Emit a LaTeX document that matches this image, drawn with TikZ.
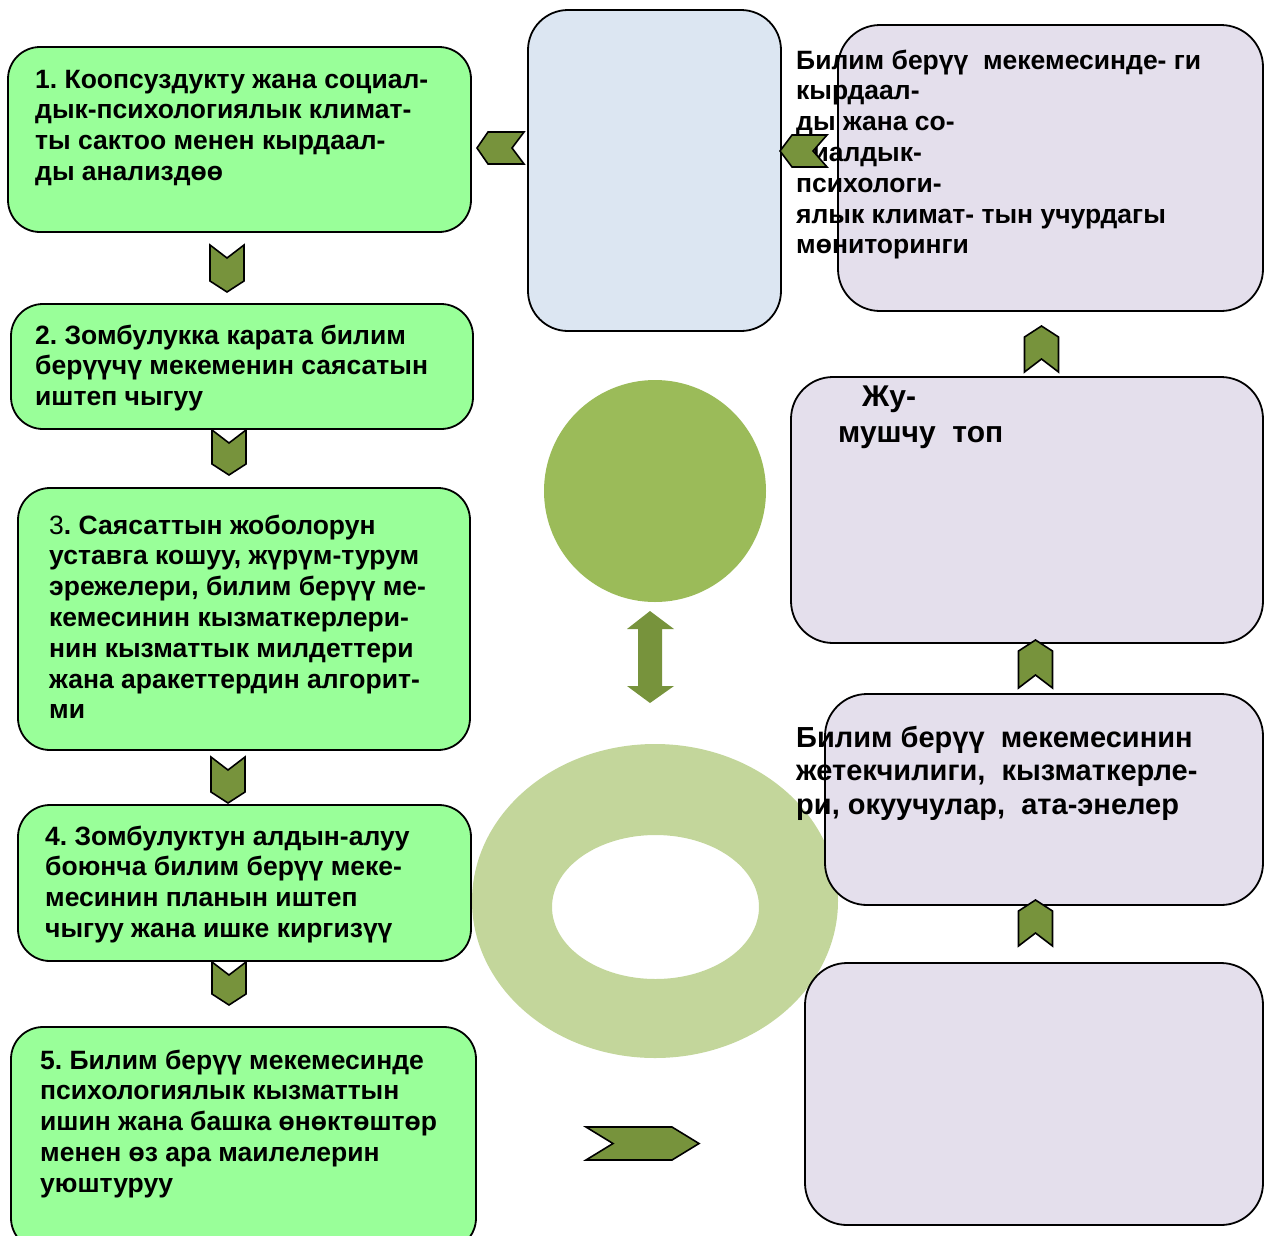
\documentclass[tikz,border=0pt]{standalone}
\usepackage{fontspec}
\setmainfont{Liberation Sans}
\frenchspacing
\definecolor{gbox}{HTML}{99FF99}
\definecolor{chev}{HTML}{77933C}
\definecolor{bluebox}{HTML}{DCE6F2}
\definecolor{lav}{HTML}{E4DFEC}
\definecolor{circc}{HTML}{9BBB59}
\definecolor{ringc}{HTML}{C3D69B}
\tikzset{
  gstep/.style={draw=black, line width=1.8pt, fill=gbox, rounded corners=32pt},
  rbox/.style={draw=black, line width=1.8pt, fill=lav, rounded corners=42pt},
  bbox/.style={draw=black, line width=1.8pt, fill=bluebox, rounded corners=40pt},
  chv/.style={draw=black, line width=1.6pt, fill=chev, line join=miter},
  txt/.style={anchor=north west, inner sep=0pt, align=left, font=\bfseries\fontsize{26.5}{30.8}\selectfont},
}
\newcommand\DownChev[3]{\draw[chv] ({#1-17},#2) -- (#1,{#2+13}) -- ({#1+17},#2) -- ({#1+17},{#3-11}) -- (#1,#3) -- ({#1-17},{#3-11}) -- cycle;}
\newcommand\UpChev[3]{\draw[chv] ({#1-17},#3) -- (#1,{#3-13}) -- ({#1+17},#3) -- ({#1+17},{#2+11}) -- (#1,#2) -- ({#1-17},{#2+11}) -- cycle;}
\begin{document}
\begin{tikzpicture}[x=1pt,y=-1pt]
\useasboundingbox (0,0) rectangle (1264,1235);
% ring and circle
\fill[ringc, even odd rule] (655,901) ellipse (183 and 157) (655.5,907) ellipse (103.5 and 72);
\fill[circc] (655,491) circle (111);
% left boxes
\draw[gstep] (8,47) rectangle (471,232);
\draw[gstep] (11,304) rectangle (473,429);
\draw[gstep] (18,488) rectangle (470,750);
\draw[gstep] (18,805) rectangle (471,961);
\draw[gstep] (11,1027) rectangle (476,1250);
% blue box
\draw[bbox] (528,10) rectangle (781,331);
% right boxes
\draw[rbox] (838,25) rectangle (1263,311);
\draw[rbox] (791,377) rectangle (1263,643);
\draw[rbox] (825,694) rectangle (1263,905);
\draw[rbox] (805,963) rectangle (1263,1225);
% texts
\node[txt] (t1) at (35,66.4) {\strut 1. Коопсуздукту жана социал-\\дык-психологиялык климат-\\ты сактоо менен кырдаал-\\ды анализдөө};
\node[txt] (t2) at (35,322.4) {\strut 2. Зомбулукка карата билим\\берүүчү мекеменин саясатын\\иштеп чыгуу};
\node[txt] (t3) at (49,512.4) {\strut {\mdseries 3}. Саясаттын жоболорун\\уставга кошуу, жүрүм-турум\\эрежелери, билим берүү ме-\\кемесинин кызматкерлери-\\нин кызматтык милдеттери\\жана аракеттердин алгорит-\\ми};
\node[txt] (t4) at (45,823.4) {\strut 4. Зомбулуктун алдын-алуу\\боюнча билим берүү меке-\\месинин планын иштеп\\чыгуу жана ишке киргизүү};
\node[txt] (t5) at (40,1047.4) {\strut 5. Билим берүү мекемесинде\\психологиялык кызматтын\\ишин жана башка өнөктөштөр\\менен өз ара маилелерин\\уюштуруу};
\node[txt] (r1) at (796,47.4) {\strut Билим берүү\ \ мекемесинде- ги\\кырдаал-\\ды жана со-\\циалдык-\\психологи-\\ялык климат- тын учурдагы\\мөниторинги};
\node[txt, font=\bfseries\fontsize{30}{36}\selectfont] (r2) at (838,380.8) {\strut\hspace*{24pt}Жу-\\мушчу\ \ топ};
\node[txt, font=\bfseries\fontsize{29}{33.5}\selectfont] (r3) at (796,723.5) {\strut Билим берүү\ \ мекемесинин\\жетекчилиги,\ \ кызматкерле-\\ри, окуучулар,\ \ ата-энелер};
% chevrons down
\DownChev{227}{245}{292}
\DownChev{229}{430}{475}
\DownChev{228}{757}{803}
\DownChev{229}{962}{1005}
% chevrons up
\UpChev{1041.5}{326}{372}
\UpChev{1035.5}{640}{688}
\UpChev{1035.5}{900}{946}
% left chevrons
\draw[chv] (524,132) -- (488,132) -- (477,148) -- (488,164) -- (524,164) -- (512,148) -- cycle;
\draw[chv] (827,135) -- (792,135) -- (780,151) -- (792,167) -- (827,167) -- (813,151) -- cycle;
% right chevron
\draw[chv] (586,1127) -- (672,1127) -- (699,1143.5) -- (672,1160) -- (586,1160) -- (613,1143.5) -- cycle;
% double arrow
\fill[chev] (650,611) -- (674,629) -- (662,629) -- (662,686) -- (674,686) -- (650,703) -- (627,686) -- (638,686) -- (638,629) -- (627,629) -- cycle;
\end{tikzpicture}
\end{document}
